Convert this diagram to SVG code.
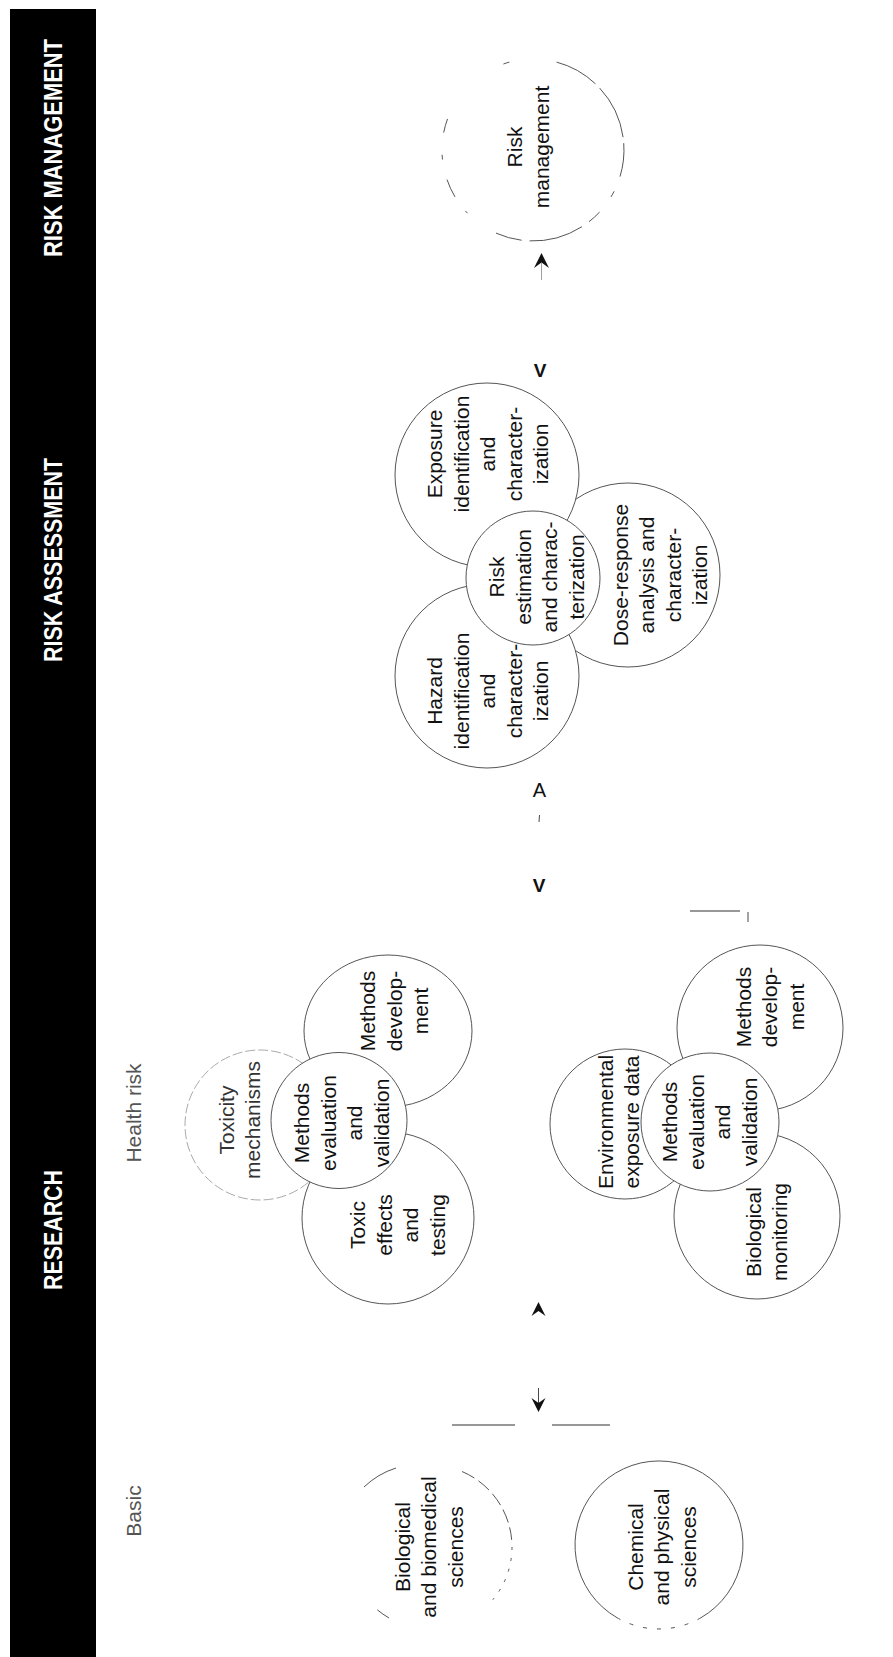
<svg xmlns="http://www.w3.org/2000/svg" width="893" height="1657" viewBox="0 0 893 1657">
<style>
.hdr{font-family:"Liberation Sans",Arial,sans-serif;font-weight:bold;font-size:25px;fill:#fff;text-anchor:middle;dominant-baseline:central}
.lbl{font-family:"Liberation Sans",Arial,sans-serif;font-size:21px;fill:#111;text-anchor:middle}
.sec{font-family:"Liberation Sans",Arial,sans-serif;font-size:21px;fill:#555;text-anchor:middle;dominant-baseline:central}
.c{fill:#fff;stroke:#555;stroke-width:1}
.cf{fill:none;stroke:#aaa;stroke-width:1;stroke-dasharray:10 3}
.br{fill:none;stroke:#555;stroke-width:1}
.ln{stroke:#333;stroke-width:1.2;fill:none}
.ah{fill:#111}
.mk{font-family:"Liberation Sans",Arial,sans-serif;fill:#111;text-anchor:middle}
</style>
<rect width="893" height="1657" fill="#fff"/>
<g id="bar">
<rect x="10" y="9" width="86" height="1648" fill="#000"/>
<text class="hdr" transform="translate(53,148) rotate(-90)" textLength="218" lengthAdjust="spacingAndGlyphs">RISK MANAGEMENT</text>
<text class="hdr" transform="translate(53,560) rotate(-90)" textLength="204" lengthAdjust="spacingAndGlyphs">RISK ASSESSMENT</text>
<text class="hdr" transform="translate(53,1230) rotate(-90)" textLength="120" lengthAdjust="spacingAndGlyphs">RESEARCH</text>
</g>
<text class="sec" transform="translate(133,1113) rotate(-90)">Health risk</text>
<text class="sec" transform="translate(133,1511) rotate(-90)">Basic</text>

<g id="risk-management">
<path class="br" stroke-dasharray="45 6 55 6 40 4" d="M556.6,62.1 A91,91 0 0 1 620.0,176.6"/>
<path class="br" d="M614.1,191.3 A91,91 0 0 1 611.0,196.9 M599.6,212.1 A91,91 0 0 1 589.0,221.7"/>
<path class="br" stroke-dasharray="55 8 80" d="M581.9,226.7 A91,91 0 0 1 496.0,233.1"/>
<path class="br" d="M467.5,213.2 A91,91 0 0 1 465.4,210.9 M455.0,196.9 A91,91 0 0 1 447.0,179.6 M442.5,159.5 A91,91 0 0 1 442.1,154.8 M443.7,132.6 A91,91 0 0 1 447.5,118.9 M503.4,64.0 A91,91 0 0 1 509.4,62.1"/>
<text class="lbl" transform="translate(527.5,147) rotate(-90)"><tspan x="0" y="-5.25">Risk</tspan><tspan x="0" y="21.25">management</tspan></text>
</g>

<g id="dose-response">
<circle class="c" cx="628" cy="575" r="92"/>
<text class="lbl" transform="translate(659.5,575) rotate(-90)"><tspan x="0" y="-31.75">Dose-response</tspan><tspan x="0" y="-5.25">analysis and</tspan><tspan x="0" y="21.25">character-</tspan><tspan x="0" y="47.75">ization</tspan></text>
</g>
<g id="exposure">
<circle class="c" cx="487" cy="475" r="92"/>
<text class="lbl" transform="translate(487,454) rotate(-90)"><tspan x="0" y="-45">Exposure</tspan><tspan x="0" y="-18.5">identification</tspan><tspan x="0" y="8">and</tspan><tspan x="0" y="34.5">character-</tspan><tspan x="0" y="61">ization</tspan></text>
</g>
<g id="hazard">
<circle class="c" cx="487" cy="676" r="92"/>
<text class="lbl" transform="translate(487,691) rotate(-90)"><tspan x="0" y="-45">Hazard</tspan><tspan x="0" y="-18.5">identification</tspan><tspan x="0" y="8">and</tspan><tspan x="0" y="34.5">character-</tspan><tspan x="0" y="61">ization</tspan></text>
</g>
<g id="risk-estimation">
<circle class="c" cx="533" cy="578" r="67"/>
<text class="lbl" transform="translate(536,577) rotate(-90)"><tspan x="0" y="-31.75">Risk</tspan><tspan x="0" y="-5.25">estimation</tspan><tspan x="0" y="21.25">and charac-</tspan><tspan x="0" y="47.75">terization</tspan></text>
</g>

<g id="toxicity-mechanisms">
<circle class="cf" cx="260" cy="1125" r="75"/>
<text class="lbl" style="fill:#333" transform="translate(239,1120) rotate(-90)"><tspan x="0" y="-5.25">Toxicity</tspan><tspan x="0" y="21.25">mechanisms</tspan></text>
</g>
<g id="methods-development-1">
<ellipse class="c" cx="388" cy="1031" rx="84" ry="76"/>
<text class="lbl" transform="translate(393.5,1011) rotate(-90)"><tspan x="0" y="-18.5">Methods</tspan><tspan x="0" y="8">develop-</tspan><tspan x="0" y="34.5">ment</tspan></text>
</g>
<g id="toxic-effects">
<circle class="c" cx="388" cy="1218" r="86"/>
<text class="lbl" transform="translate(397,1225) rotate(-90)"><tspan x="0" y="-31.75">Toxic</tspan><tspan x="0" y="-5.25">effects</tspan><tspan x="0" y="21.25">and</tspan><tspan x="0" y="47.75">testing</tspan></text>
</g>
<g id="methods-evaluation-1">
<circle class="c" cx="339" cy="1120.5" r="68"/>
<text class="lbl" transform="translate(341,1123) rotate(-90)"><tspan x="0" y="-31.75">Methods</tspan><tspan x="0" y="-5.25">evaluation</tspan><tspan x="0" y="21.25">and</tspan><tspan x="0" y="47.75">validation</tspan></text>
</g>

<g id="methods-development-2">
<circle class="c" cx="760" cy="1028" r="83"/>
<text class="lbl" transform="translate(769,1007) rotate(-90)"><tspan x="0" y="-18.5">Methods</tspan><tspan x="0" y="8">develop-</tspan><tspan x="0" y="34.5">ment</tspan></text>
</g>
<g id="biological-monitoring">
<circle class="c" cx="757" cy="1216" r="83"/>
<text class="lbl" transform="translate(766,1232) rotate(-90)"><tspan x="0" y="-5.25">Biological</tspan><tspan x="0" y="21.25">monitoring</tspan></text>
</g>
<g id="environmental-exposure">
<circle class="c" cx="625" cy="1124" r="75"/>
<text class="lbl" transform="translate(618,1122) rotate(-90)"><tspan x="0" y="-5.25">Environmental</tspan><tspan x="0" y="21.25">exposure data</tspan></text>
</g>
<g id="methods-evaluation-2">
<circle class="c" cx="710" cy="1122" r="69"/>
<text class="lbl" transform="translate(709,1122) rotate(-90)"><tspan x="0" y="-31.75">Methods</tspan><tspan x="0" y="-5.25">evaluation</tspan><tspan x="0" y="21.25">and</tspan><tspan x="0" y="47.75">validation</tspan></text>
</g>

<g id="biological-sciences">
<path class="br" d="M364,1487 A82,82 0 0 1 396,1468"/>
<path class="br" stroke-dasharray="14 5" d="M462,1471.5 A82,82 0 0 1 511.7,1539.9"/>
<path class="br" stroke-dasharray="3 8" d="M512,1547 A82,82 0 0 1 492.8,1599.7"/>
<path class="br" d="M389,1618 A82,82 0 0 1 377.3,1609.8"/>
<text class="lbl" transform="translate(428,1547) rotate(-90)"><tspan x="0" y="-18.5">Biological</tspan><tspan x="0" y="8">and biomedical</tspan><tspan x="0" y="34.5">sciences</tspan></text>
</g>
<g id="chemical-sciences">
<path class="br" d="M617,1617.7 A84,84 0 1 1 701,1617.7"/>
<path class="br" stroke-dasharray="4 10" d="M701,1617.7 A84,84 0 0 1 617,1617.7"/>
<text class="lbl" transform="translate(661,1547) rotate(-90)"><tspan x="0" y="-18.5">Chemical</tspan><tspan x="0" y="8">and physical</tspan><tspan x="0" y="34.5">sciences</tspan></text>
</g>

<g id="connectors">
<path class="ah" d="M541.5,253 L549,268 L541.5,262.5 L534,268 Z"/>
<path class="ln" style="stroke:#888;stroke-width:0.8" d="M541.5,263 V280"/>
<text class="mk" x="540" y="377" style="font-size:19px;font-weight:bold">V</text>
<text class="mk" x="539.5" y="797" style="font-size:20px">A</text>
<path class="ln" style="stroke-width:0.9" d="M539.5,815 L539,822"/>
<text class="mk" x="539" y="892" style="font-size:19px;font-weight:bold">V</text>
<path class="ln" d="M690,911 H740"/>
<path class="ln" style="stroke-width:0.9" d="M748,912 V922"/>
<path class="ah" d="M538.5,1302 L545.5,1316 L538.5,1311 L531.5,1316 Z"/>
<path class="ln" style="stroke-width:0.9" d="M538.5,1388 V1405"/>
<path class="ah" d="M538.5,1412 L545.5,1398 L538.5,1403 L531.5,1398 Z"/>
<path class="ln" d="M452,1425 H515 M552,1425 H610"/>
</g>
</svg>
